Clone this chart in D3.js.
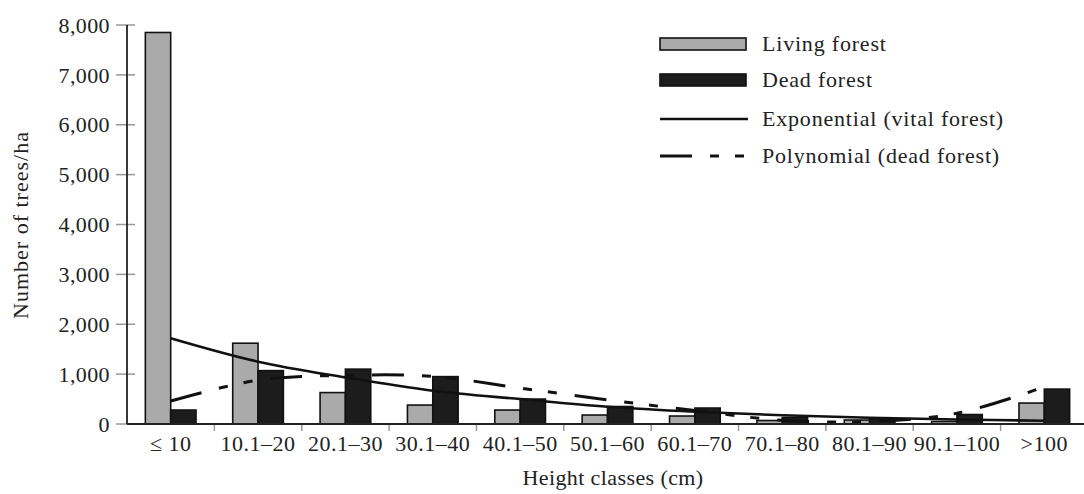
<!DOCTYPE html>
<html>
<head>
<meta charset="utf-8">
<script src="https://cdn.jsdelivr.net/npm/d3@7"></script>
<style>
  html, body { margin: 0; padding: 0; background: #fff; }
  svg text { font-family: "Liberation Serif", "Times New Roman", serif; fill: #222; }
</style>
</head>
<body>
<svg id="chart" width="1084" height="494"></svg>
<script>
const categories = ["\u2264 10","10.1\u201320","20.1\u201330","30.1\u201340","40.1\u201350","50.1\u201360","60.1\u201370","70.1\u201380","80.1\u201390","90.1\u2013100",">100"];
const livingForest = [7850, 1620, 630, 380, 280, 180, 160, 70, 80, 50, 420];
const deadForest   = [280, 1070, 1100, 950, 500, 350, 320, 130, 100, 190, 700];
const expVital     = [1720, 1250, 935, 667, 500, 345, 245, 175, 125, 90, 65];
const polyDead     = [460, 880, 975, 955, 720, 485, 270, 75, 50, 215, 745];
const yTicks = [0, 1000, 2000, 3000, 4000, 5000, 6000, 7000, 8000];
const legendItems = ["Living forest", "Dead forest", "Exponential (vital forest)", "Polynomial (dead forest)"];

(function () {
const svg = d3.select("#chart");
const pL = 127, pR = 1088, pT = 25, pB = 424;

const x = d3.scaleBand().domain(categories).range([pL, pR]).padding(0);
const y = d3.scaleLinear().domain([0, 8000]).range([pB, pT]);
const bw = x.bandwidth();
const barW = bw * 0.29;
const cx = c => x(c) + bw / 2;

// y ticks (crossing the axis)
svg.append("g").selectAll("line").data(yTicks).join("line")
  .attr("x1", pL - 11).attr("x2", pL + 8)
  .attr("y1", d => y(d)).attr("y2", d => y(d))
  .attr("stroke", "#999").attr("stroke-width", 1.5);
svg.append("g").selectAll("text").data(yTicks).join("text")
  .attr("x", pL - 17).attr("y", d => y(d)).attr("dy", "0.35em")
  .attr("text-anchor", "end").attr("font-size", 22).attr("letter-spacing", 0.4)
  .text(d => d3.format(",")(d));

// x ticks at band boundaries
const boundaries = categories.slice(1);
svg.append("g").selectAll("line").data(boundaries).join("line")
  .attr("x1", d => x(d)).attr("x2", d => x(d))
  .attr("y1", pB).attr("y2", pB + 7)
  .attr("stroke", "#999").attr("stroke-width", 1.5);
svg.append("g").selectAll("text").data(categories).join("text")
  .attr("x", d => cx(d)).attr("y", pB + 27)
  .attr("text-anchor", "middle").attr("font-size", 22).attr("letter-spacing", 0.5)
  .text(d => d);

// bars
svg.append("g").selectAll("rect").data(categories).join("rect")
  .attr("x", d => cx(d) - barW).attr("width", barW)
  .attr("y", (d, i) => y(livingForest[i])).attr("height", (d, i) => pB - y(livingForest[i]))
  .attr("fill", "#aaaaaa").attr("stroke", "#111").attr("stroke-width", 1.6);
svg.append("g").selectAll("rect").data(categories).join("rect")
  .attr("x", d => cx(d)).attr("width", barW)
  .attr("y", (d, i) => y(deadForest[i])).attr("height", (d, i) => pB - y(deadForest[i]))
  .attr("fill", "#1c1c1c").attr("stroke", "#111").attr("stroke-width", 1.6);

// trend lines
const line = d3.line().x((d, i) => cx(categories[i])).y(d => y(d)).curve(d3.curveCatmullRom.alpha(0.5));
svg.append("path").datum(expVital).attr("d", line)
  .attr("fill", "none").attr("stroke", "#111").attr("stroke-width", 2.6);
svg.append("path").datum(polyDead).attr("d", line)
  .attr("fill", "none").attr("stroke", "#111").attr("stroke-width", 3)
  .attr("stroke-dasharray", "32,18,9,16,9,18");

// axes lines
svg.append("line").attr("x1", pL).attr("x2", pL).attr("y1", pT).attr("y2", pB)
  .attr("stroke", "#222").attr("stroke-width", 1.8);
svg.append("line").attr("x1", pL).attr("x2", 1084).attr("y1", pB).attr("y2", pB)
  .attr("stroke", "#222").attr("stroke-width", 1.8);

// axis titles
svg.append("text").attr("x", 613).attr("y", 485).attr("text-anchor", "middle")
  .attr("font-size", 22).attr("letter-spacing", 0.4).text("Height classes (cm)");
svg.append("text").attr("transform", "translate(28,225) rotate(-90)")
  .attr("text-anchor", "middle").attr("font-size", 22).attr("letter-spacing", 1).text("Number of trees/ha");

// legend
const lg = svg.append("g");
const lx0 = 660, lx1 = 746, tx = 762;
const rowY = [44, 80, 119, 156];
lg.append("rect").attr("x", lx0).attr("y", rowY[0] - 6).attr("width", lx1 - lx0).attr("height", 12)
  .attr("fill", "#aaaaaa").attr("stroke", "#111").attr("stroke-width", 1.6);
lg.append("rect").attr("x", lx0).attr("y", rowY[1] - 6).attr("width", lx1 - lx0).attr("height", 12)
  .attr("fill", "#1c1c1c").attr("stroke", "#111").attr("stroke-width", 1.6);
lg.append("line").attr("x1", lx0).attr("x2", lx1 + 2).attr("y1", rowY[2]).attr("y2", rowY[2])
  .attr("stroke", "#111").attr("stroke-width", 2.6);
lg.append("line").attr("x1", lx0).attr("x2", lx1).attr("y1", rowY[3]).attr("y2", rowY[3])
  .attr("stroke", "#111").attr("stroke-width", 3).attr("stroke-dasharray", "32,18,9,16,9,18");
lg.selectAll("text").data(legendItems).join("text")
  .attr("x", tx).attr("y", (d, i) => rowY[i]).attr("dy", "0.3em")
  .attr("font-size", 22).attr("letter-spacing", 0.8).text(d => d);
})();
</script>
</body>
</html>
